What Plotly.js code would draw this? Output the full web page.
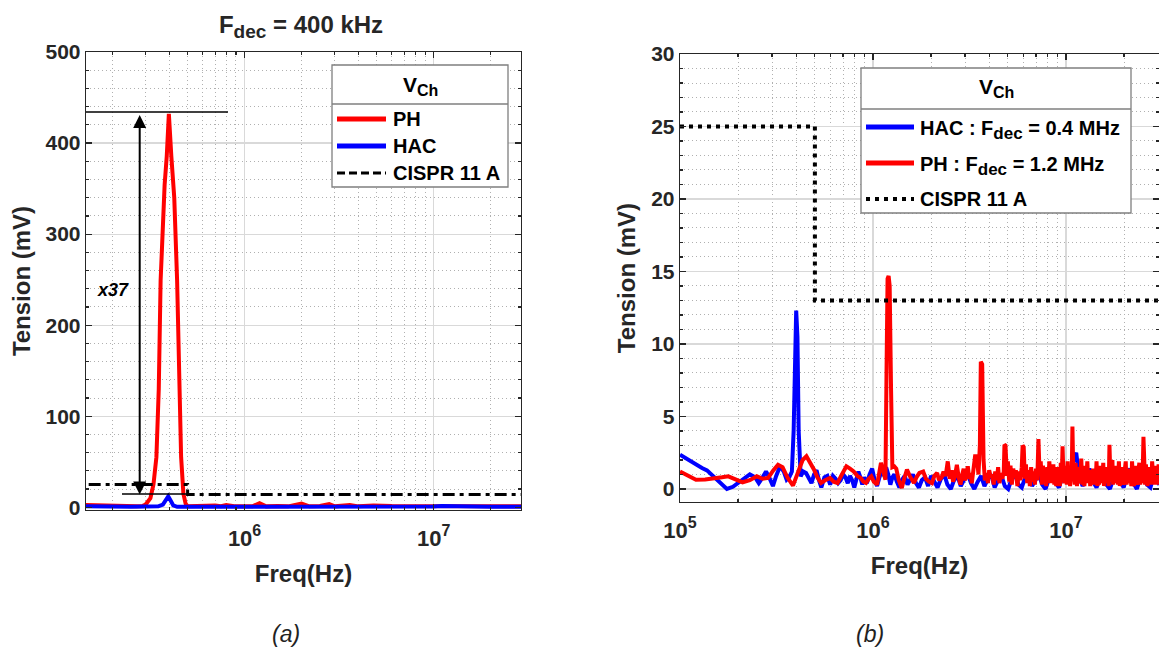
<!DOCTYPE html>
<html><head><meta charset="utf-8">
<script src="https://cdn.plot.ly/plotly-3.0.1.min.js"></script>
<style>html,body{margin:0;padding:0;background:#fff;} #chart{width:1159px;height:652px;}</style>
</head><body><div id="chart"></div>
<script>
// ---------- DATA (frequencies in MHz, tension in mV) ----------
// Panel (a): F_dec = 400 kHz
const aFreqPH = [0.145,0.16,0.18,0.2,0.22,0.25,0.27,0.29,0.30,0.318,0.33,0.342,0.352,0.36,0.37,0.378,0.388,0.398,0.41,0.425,0.44,0.452,0.462,0.475,0.488,0.5,
  0.55,0.6,0.65,0.7,0.75,0.8,0.9,1.0,1.1,1.2,1.3,1.5,1.7,2.0,2.2,2.5,2.8,3.0,3.6,4.0,4.8,6.0,7.2,10,11,15,20,25,29.5];
const aPH = [2.5,2.2,1.8,1.5,1.2,1.0,1.2,1.5,3,10,25,55,130,249,320,354,386,432,386,340,249,130,55,15,4,1.2,
  1.5,1.0,1.5,2.0,1.2,2.5,1.0,1.5,1.0,4.5,1.0,1.5,1.0,4.0,1.0,1.5,3.5,1.0,2.5,1.0,2.0,1.5,1.5,1.5,2.0,1.2,1.2,1.0,1.2];
const aFreqHAC = [0.145,0.2,0.25,0.3,0.35,0.37,0.385,0.395,0.405,0.42,0.44,0.5,0.7,1.0,1.5,2.0,3.0,5.0,7.0,10,11,15,20,29.5];
const aHAC = [1.0,0.3,0.5,0.8,1.0,3,9,12,8,2,0.5,0.3,0.6,0.5,0.4,0.3,0.5,0.5,0.4,0.8,1.5,0.6,0.5,0.5];
const aFreqCISPR = [0.15,0.5,0.5,30];
const aCISPR = [25,25,14,14];

// Panel (b)
const bFreqHAC = [0.100,0.110,0.120,0.130,0.138,0.148,0.160,0.175,0.188,0.200,0.215,0.230,0.245,0.256,0.268,0.279,0.290,0.303,0.315,0.330,0.345,0.357,0.368,0.380,0.388,0.394,0.400,0.406,0.412,0.422,0.435,0.450,0.465,0.480,0.495,0.510,0.525,0.540,0.560,0.580,0.600,0.620,0.640,0.660,0.680,0.700,0.720,0.740,0.760,0.780,0.800,0.820,0.840,0.860,0.880,0.900,0.930,0.960,0.990,
  1.02,1.05,1.08,1.11,1.14,1.17,1.20,1.23,1.26,1.29,1.33,1.37,1.41,1.46,1.51,1.56,1.61,1.67,1.73,1.79,1.86,1.93,2.0,2.08,2.16,2.25,2.34,2.43,2.53,2.63,2.74,2.85,2.97,3.09,3.22,3.35,3.49,3.63,3.78,3.94,4.10,4.27,4.45,4.63,4.82,5.02,5.23,5.45,5.67,5.90,6.15,6.40,6.67,6.94,7.23,7.53,7.84,8.16,8.50,8.85,9.21,9.60,
  10.0,10.4,10.8,11.3,11.7,12.2,12.7,13.2,13.8,14.4,15.0,15.6,16.2,16.9,17.6,18.3,19.1,19.9,20.7,21.5,22.4,23.3,24.3,25.3,26.3,27.4,28.5,29.7,30.5];
const bHAC = [2.36,2.0,1.7,1.45,1.28,0.9,0.4,0.0,0.15,0.4,0.7,1.0,0.8,0.4,0.8,1.2,0.8,0.2,0.9,1.56,1.2,0.64,0.8,1.2,4.0,10.5,12.3,10.5,4.0,0.87,1.2,1.1,0.7,0.4,1.0,1.3,0.6,0.1,0.8,0.9,0.3,0.9,0.7,0.4,0.6,1.0,0.8,0.4,0.9,0.6,0.1,0.7,1.2,0.8,0.3,0.8,0.4,1.0,1.4,
  0.6,0.2,0.8,1.3,0.9,1.5,1.0,0.3,0.8,1.0,0.5,0.1,0.6,0.9,0.3,0.7,1.0,0.4,0.1,0.6,0.8,0.2,0.9,0.5,0.1,0.7,1.0,0.3,0.0,0.6,0.9,0.2,0.7,1.1,0.4,0.0,0.5,0.9,0.2,0.7,1.0,0.1,0.6,0.9,0.2,0.0,0.7,1.0,0.3,0.1,0.8,1.1,0.2,0.6,1.0,0.3,0.0,0.7,1.2,0.4,0.1,0.9,
  1.3,0.6,1.8,2.5,0.8,0.2,0.9,1.4,0.5,0.1,0.8,1.2,0.3,0.0,0.7,1.3,0.5,0.1,0.9,1.4,0.4,0.0,0.8,1.2,0.3,0.1,0.9,0.6,0.3];
const bFreqPH = [0.100,0.110,0.121,0.135,0.150,0.165,0.178,0.195,0.211,0.230,0.250,0.268,0.286,0.305,0.322,0.340,0.360,0.385,0.410,0.432,0.452,0.475,0.495,0.515,0.538,0.565,0.599,0.625,0.655,0.690,0.728,0.760,0.794,0.830,0.864,0.892,0.920,0.950,0.980,
  1.010,1.050,1.080,1.100,1.130,1.160,1.175,1.190,1.205,1.220,1.240,1.260,1.290,1.320,1.360,1.410,1.450,1.500,1.550,1.590,1.630,1.680,1.740,1.820,1.880,1.950,2.020,2.080,2.150,2.200,2.270,2.320,2.380,2.440,2.500,2.560,2.600,2.660,2.720,2.780,2.840,2.900,2.950,3.000,3.050,3.100,3.150,3.200,3.250,3.300,3.380,3.450,3.520,3.580,3.620,3.680,3.740,3.800,3.870,3.940,
  4.000,4.080,4.150,4.220,4.300,4.380,4.450,4.520,4.600,4.680,4.760,4.800,4.860,4.940,5.000,5.080,5.160,5.240,5.330,5.420,5.500,5.600,5.700,5.800,5.900,5.960,6.040,6.120,6.200,6.300,6.400,6.500,6.600,6.700,6.800,6.900,7.000,7.100,7.200,7.300,7.400,7.500,7.600,7.700,7.800,7.900,8.000,8.100,8.200,8.300,8.400,8.500,8.600,8.700,8.800,8.900,9.000,9.100,9.200,9.300,9.400,9.500,9.600,9.700,9.800,9.900,
  10.00,10.10,10.20,10.30,10.40,10.50,10.60,10.70,10.80,10.90,11.00,11.10,11.20,11.30,11.40,11.50,11.60,11.70,11.80,11.90,12.00,12.15,12.30,12.45,12.60,12.75,12.90,13.05,13.20,13.35,13.50,13.65,13.80,13.95,14.10,14.25,14.40,14.55,14.70,14.85,15.00,15.15,15.30,15.45,15.60,15.75,15.90,16.05,16.20,16.35,16.50,16.65,16.80,16.95,17.10,17.25,17.40,17.55,17.70,17.85,18.00,18.20,18.40,18.60,18.80,19.00,19.20,19.40,19.60,19.80,
  20.00,20.20,20.40,20.60,20.80,21.00,21.20,21.40,21.60,21.80,22.00,22.25,22.50,22.75,23.00,23.25,23.50,23.75,24.00,24.25,24.50,24.75,25.00,25.20,25.45,25.70,25.95,26.20,26.45,26.70,26.95,27.20,27.45,27.70,27.95,28.20,28.45,28.70,28.95,29.20,29.45,29.70,29.95,30.20];
const bPH = [1.2,0.9,0.64,0.65,0.7,0.8,0.87,0.65,0.46,0.6,0.87,0.7,0.76,1.3,1.67,1.5,0.8,0.23,1.2,2.0,2.25,1.8,1.33,0.8,0.41,0.6,0.76,0.5,0.41,1.0,1.56,1.4,1.2,0.9,0.76,0.5,0.41,0.7,0.87,
  0.5,0.3,1.2,1.8,1.2,0.64,8.0,14.5,14.7,14.0,7.0,1.5,1.56,1.4,0.6,0.07,0.7,1.33,0.9,0.6,0.41,0.8,1.1,1.2,0.7,0.5,0.4,0.9,1.1,0.6,0.8,1.2,0.9,1.9,0.7,1.3,0.5,0.9,1.67,0.8,0.3,1.0,1.4,0.6,1.3,1.56,0.7,1.1,0.4,1.0,2.25,2.25,1.0,3.0,8.78,8.6,2.0,0.6,1.1,0.4,
  1.3,0.8,1.0,0.3,1.2,0.6,1.5,0.4,1.1,0.7,1.2,3.05,3.0,0.9,1.9,0.5,1.6,0.3,1.4,0.8,1.3,0.2,1.2,0.6,1.5,3.0,2.9,0.7,1.7,0.4,1.3,0.2,1.5,0.5,1.2,0.3,1.4,0.6,3.44,1.0,1.9,0.3,1.6,0.7,1.3,0.2,1.5,0.5,1.9,0.4,1.4,0.8,1.7,0.3,1.2,0.2,1.5,0.6,1.1,0.2,1.8,0.5,2.94,0.9,0.4,1.2,
  1.6,0.3,1.9,0.5,1.3,0.2,1.1,0.7,4.3,1.4,1.0,0.3,1.8,0.6,0.2,1.3,1.5,0.4,0.6,1.2,2.1,0.3,1.6,0.2,0.9,0.7,1.9,0.4,1.3,0.2,1.2,0.5,1.4,0.3,1.0,0.5,1.9,0.2,0.8,0.3,1.6,0.4,1.1,0.8,1.8,0.2,1.2,0.4,1.5,0.6,0.9,0.2,3.05,1.2,0.5,1.3,2.0,0.3,1.1,0.4,1.6,0.7,1.2,0.3,1.9,0.2,1.0,0.5,1.5,0.3,
  0.5,1.4,1.9,0.3,1.1,0.4,1.4,0.7,1.0,0.2,1.9,0.5,0.2,1.2,1.6,0.3,0.6,1.3,1.8,0.3,1.0,0.4,1.4,3.6,1.0,0.3,1.7,0.4,0.2,1.5,0.6,1.2,0.5,0.3,1.9,0.6,0.3,1.3,1.6,0.4,1.1,0.3,1.5,1.7];
const bFreqCISPR = [0.1,0.5,0.5,31];
const bCISPR = [25,25,13,13];

// Axis ticks
const majorFreqTicks = [1e5,1e6,1e7];
const majorFreqExponents = ['5','6','7'];
const minorFreqTicks = [2e5,3e5,4e5,5e5,6e5,7e5,8e5,9e5,2e6,3e6,4e6,5e6,6e6,7e6,8e6,9e6,2e7,3e7];
const aYTicks = [0,100,200,300,400,500];
const bYTicks = [0,5,10,15,20,25,30];

// ---------- LAYOUT ----------
const W = 1159, H = 652;
const PX = v => v / W, PY = v => 1 - v / H;
const F = 'Liberation Sans, Arial, Helvetica, sans-serif';
const DARK = '#262626';
const toHz = a => a.map(v => v * 1e6);
const SUB = (t, s) => '<sub><span style="font-size:' + s + 'px">' + t + '</span></sub>';
const majorFreqLabels = majorFreqExponents.map(e => '10<sup><span style="font-size:16px">' + e + '</span></sup>');

function xAxis(domain, range) {
  return {
    type:'log', domain, range, showline:true, linecolor:DARK, linewidth:1.3, mirror:'ticks',
    ticks:'inside', ticklen:6, tickwidth:1.2, tickcolor:DARK,
    tickmode:'array', tickvals:majorFreqTicks, ticktext:majorFreqLabels, ticklabelstandoff:8,
    tickfont:{family:F, size:22, color:DARK, weight:700},
    showgrid:true, gridcolor:'#d9d9d9', gridwidth:1.2, zeroline:false,
    minor:{tickmode:'array', tickvals:minorFreqTicks, ticks:'inside', ticklen:3, tickcolor:DARK,
           showgrid:true, gridcolor:'#b0b0b0', gridwidth:1, griddash:'1px,3px'},
    title:{text:'<b>Freq(Hz)</b>', font:{family:F, size:24, color:DARK}, standoff:15},
    automargin:false, fixedrange:true
  };
}
function yAxis(domain, range, tickvals, minorStep, anchor) {
  return {
    domain, range, anchor, showline:true, linecolor:DARK, linewidth:1.3, mirror:'ticks',
    ticks:'inside', ticklen:6, tickwidth:1.2, tickcolor:DARK,
    tickmode:'array', tickvals,
    tickfont:{family:F, size:21, color:DARK, weight:700},
    showgrid:true, gridcolor:'#d9d9d9', gridwidth:1.2, zeroline:false,
    minor:{dtick:minorStep, tick0:0, ticks:'inside', ticklen:3, tickcolor:DARK,
           showgrid:true, gridcolor:'#b0b0b0', gridwidth:1, griddash:'1px,3px'},
    title:{text:'<b>Tension (mV)</b>', font:{family:F, size:24, color:DARK}, standoff:8},
    automargin:false, fixedrange:true
  };
}

const traces = [
  {x:toHz(aFreqPH), y:aPH, xaxis:'x', yaxis:'y', mode:'lines', name:'PH', line:{color:'#ff0000', width:4}},
  {x:toHz(aFreqHAC), y:aHAC, xaxis:'x', yaxis:'y', mode:'lines', name:'HAC', line:{color:'#0000ff', width:4}},
  {x:toHz(aFreqCISPR), y:aCISPR, xaxis:'x', yaxis:'y', mode:'lines', name:'CISPR 11 A', line:{color:'#000', width:3, dash:'12px,5px,4px,5px'}},
  {x:toHz(bFreqHAC), y:bHAC, xaxis:'x2', yaxis:'y2', mode:'lines', name:'HAC : F_dec = 0.4 MHz', line:{color:'#0000ff', width:4}},
  {x:toHz(bFreqPH), y:bPH, xaxis:'x2', yaxis:'y2', mode:'lines', name:'PH : F_dec = 1.2 MHz', line:{color:'#ff0000', width:4}},
  {x:toHz(bFreqCISPR), y:bCISPR, xaxis:'x2', yaxis:'y2', mode:'lines', name:'CISPR 11 A', line:{color:'#000', width:4, dash:'4px,5px'}}
];

function seg(x0,y0,x1,y1,color,width,dash){
  return {type:'line', xref:'paper', yref:'paper', x0:PX(x0), y0:PY(y0), x1:PX(x1), y1:PY(y1), layer:'above',
          line:{color, width, dash:dash||'solid'}};
}
function box(x0,y0,x1,y1){
  return {type:'rect', xref:'paper', yref:'paper', x0:PX(x0), y0:PY(y0), x1:PX(x1), y1:PY(y1), layer:'above',
          fillcolor:'#ffffff', line:{color:'#7f7f7f', width:1.3}};
}
function txt(x,y,text,opts){
  return Object.assign({xref:'paper', yref:'paper', x:PX(x), y:PY(y), text, showarrow:false,
          xanchor:'left', yanchor:'middle', font:{family:F, size:20, color:'#000'}}, opts||{});
}

const shapes = [
  // legend (a)
  box(332,65,508,187), seg(332,104,508,104,'#7f7f7f',1.3),
  seg(337,119,386,119,'#ff0000',5), seg(337,146,386,146,'#0000ff',5), seg(337,173,386,173,'#000',3,'8px,4px'),
  // legend (b)
  box(861,68,1131,213), seg(861,109,1131,109,'#7f7f7f',1.3),
  seg(866,127,914,127,'#0000ff',5), seg(866,163,914,163,'#ff0000',5), seg(866,199,914,199,'#000',4,'4px,5px'),
  // reference lines in (a)
  seg(86,112,228,112,'#000',1.3), seg(122,494,190,494,'#000',1.3)
];

const annotations = [
  txt(420,86,'<b>V' + SUB('Ch',16) + '</b>',{xanchor:'center', font:{family:F, size:21, color:'#000'}}),
  txt(391,119,'<b>PH</b>'), txt(391,146,'<b>HAC</b>'), txt(391,173,'<b>CISPR 11 A</b>'),
  txt(996,88,'<b>V' + SUB('Ch',16) + '</b>',{xanchor:'center', font:{family:F, size:21, color:'#000'}}),
  txt(918,130,'<b>HAC : F' + SUB('dec',17) + ' = 0.4 MHz</b>'), txt(918,166,'<b>PH : F' + SUB('dec',17) + ' = 1.2 MHz</b>'), txt(918,199,'<b>CISPR 11 A</b>'),
  {xref:'paper', yref:'paper', x:PX(139.7), y:PY(115), ax:0, ay:381, axref:'pixel', ayref:'pixel', text:'',
   showarrow:true, arrowside:'end+start', arrowhead:2, arrowsize:1.3, arrowwidth:2, arrowcolor:'#000', standoff:0, startstandoff:0},
  txt(113,290,'<b><i>x37</i></b>',{xanchor:'center', font:{family:F, size:18, color:'#000'}}),
  txt(286,634,'<i>(a)</i>',{xanchor:'center', font:{family:F, size:23, color:'#222'}}),
  txt(870,634,'<i>(b)</i>',{xanchor:'center', font:{family:F, size:23, color:'#222'}})
];

const layout = {
  width:W, height:H, margin:{l:0,r:0,t:0,b:0}, paper_bgcolor:'#fff', plot_bgcolor:'#fff', showlegend:false,
  title:{text:'<b>F' + SUB('dec',19) + ' = 400 kHz</b>', xref:'paper', x:PX(301), xanchor:'center', yref:'container', y:1-25/H, yanchor:'middle',
         font:{family:F, size:24, color:DARK}},
  xaxis: Object.assign(xAxis([PX(86), PX(521)], [Math.log10(1.452e5), Math.log10(2.89e7)]), {anchor:'y'}),
  yaxis: yAxis([PY(510), PY(52)], [-3, 500], aYTicks, 20, 'x'),
  xaxis2: Object.assign(xAxis([PX(680), 1], [5, 7.482]), {anchor:'y2'}),
  yaxis2: yAxis([PY(502), PY(54)], [-0.9, 30], bYTicks, 1, 'x2'),
  shapes, annotations
};

Plotly.newPlot('chart', traces, layout, {staticPlot:true, displayModeBar:false});
</script></body></html>
